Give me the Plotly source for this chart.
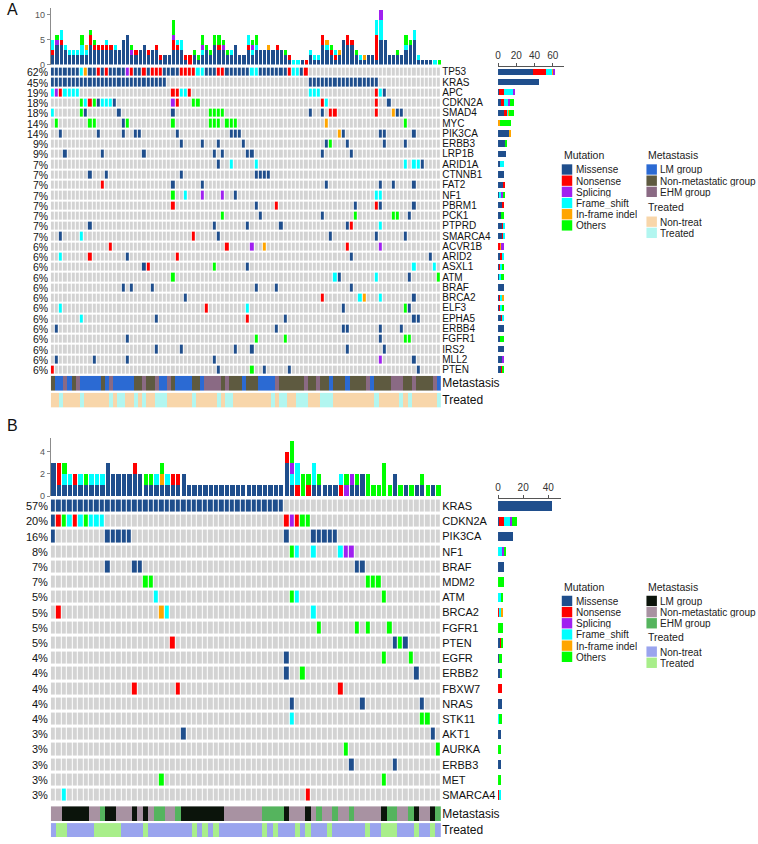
import plotly.graph_objects as go

# ── Canvas ────────────────────────────────────────────────────────────────────
W, H = 758, 844
FONT = "Arial, 'Liberation Sans', sans-serif"

# ── Mutation classes ──────────────────────────────────────────────────────────
MUT_CODES   = ["M", "N", "S", "F", "I", "O"]
MUT_NAMES   = ["Missense", "Nonsense", "Splicing", "Frame_shift", "In-frame indel", "Others"]
MUT_COLORS  = ["#1F4E8C", "#FF0000", "#A020F0", "#00FFFF", "#FFA500", "#00FF00"]
STACK_ORDER = ["M", "N", "F", "I", "S", "O"]      # bottom -> top in the bars
EMPTY_COLOR = "#D3D3D3"

META_NAMES  = ["LM group", "Non-metastatic group", "EHM group"]
META_CODES  = ["L", "N", "E"]
TREAT_NAMES = ["Non-treat", "Treated"]
TREAT_CODES = ["U", "T"]

# ── Panel A data ──────────────────────────────────────────────────────────────
N_A = 94
GENES_A = ["TP53", "KRAS", "APC", "CDKN2A", "SMAD4", "MYC", "PIK3CA", "ERBB3", "LRP1B",
           "ARID1A", "CTNNB1", "FAT2", "NF1", "PBRM1", "PCK1", "PTPRD", "SMARCA4",
           "ACVR1B", "ARID2", "ASXL1", "ATM", "BRAF", "BRCA2", "ELF3", "EPHA5", "ERBB4",
           "FGFR1", "IRS2", "MLL2", "PTEN"]
PCT_A = ["62%", "45%", "19%", "18%", "18%", "14%", "14%", "9%", "9%", "7%", "7%", "7%",
         "7%", "7%", "7%", "7%", "7%", "6%", "6%", "6%", "6%", "6%", "6%", "6%", "6%",
         "6%", "6%", "6%", "6%", "6%"]
# code + sample index (or range) for each gene row
HITS_A = [
    "M0-6 F7 I8 M9-10 N11 M12 N13 M14-17 S18 N19 M20-21 N22 M23 N24-26 M27-30 N31-34 "
    "F35-36 M37-39 N40-41 M42-47 F48-49 M50-56 N57 F58-59 M60 N61",
    "M0-27 M62-78",
    "F0 S1 N2 F3-6 N29-30 F31-32 N33 F62-64 N78 F79 M80",
    "O7 F8 N9 O10 M11 F12-14 M15 S29 N30 O34-35 N65 F66 N78 M81",
    "F0 O7 M8 M16 M29 O38-41 M62 M65 N67-68 N78 I82 M83-84",
    "O1 O9-10 M17 O18 O29 O38-40 O42-44 I66 O85",
    "M2 M11 M17 M20-21 M30 M43-45 I69 M70 M79-80 M87",
    "M31 M36 M40 M46 M66 O67 M71 M80 M85",
    "M3 M12 M22 M39 M41 M47-48 M65 M72",
    "M40 F43 F49 F85 F87-88 M89",
    "M9 M13 M31 M49-52",
    "N12 M29 M36 M66 M79 M82 M87",
    "O29 F32 S36 S41 M44 F78-79",
    "N29 M49 N54 M73 N78 M79 M87",
    "O41 M50 M65 O73 O82-83 M86",
    "M9 M39 M47 M55 M71 N72 F79",
    "M2 F7 N34 M40 M67 M78 M85",
    "N14 N42 S48 I51 N71 S79",
    "F2 N9 M18 N30 M72 M91",
    "M22 N23 O39 M47 F87 F92",
    "O29 F68 M69 F78 M86 O93",
    "M17 M19 M24 M49 M54 M72",
    "M32 N65 F74 I75 F79 M87",
    "F2 N37 F47 M70 O85 M86",
    "F7 M25 N47 M56 M87-88",
    "M1 M54 M70-71 M79 M84",
    "M18 O49 O56 M79 O85-86",
    "M25 M31 M44 M48 M71 M80",
    "M1 M10 M18 M39 S79 M87",
    "N0 M40 O48 M51 M57 M88",
]
# total mutations per sample (all genes), one string of class codes per sample
TMB_A = ("MMNFF MMMMSO MMMMNFF MMMF MMF MMF MMF MMFFOO MMFI MMMMNNO "
         "MMMNO MMMN MMMN MMMNF MMMN MMMF MMM MMMMM MMMMMM MMSO "
         "MMN MMM MMMM MMN MMM MMMN MN MM MM MMMNNSOOO "
         "MMMNF MMMFF MN NN MMO MO MMFSOO MMMO MMO MMMMOO "
         "MMMNOO MMMSO MMO MMF MMMM MM MM MMMNFF MMFSO MMMFOO "
         "MMM MMM MMMI MMM MMMN MMM MMO MN F F "
         "M N MMF MF MF MMMMNN MMMFI MMNO MNF MMI "
         "MMMMM MMMMNN MMMMN MMO MF MI MM MM MNNNNNFFF MMMMMFFFFSS "
         "MMMMM MM MM MMO MM MMMFOO MMMMO MMMMMFF MF M "
         "M M F O").split()
META_A = ("N0 L1-2 E3 L4 N5 E6 L7-11 N12 L13 E14 L15-19 N20-21 E22 N23-24 E25 L26-27 E28 "
          "N29 L30-33 N34-35 L36 E37-40 N41 E42 N43-45 L46 N47-49 L50-53 E54 N55-60 E61 "
          "N62-63 E64 N65-66 L67 N68-70 L71 N72-75 E76 L77 N78-81 E82-84 N85-86 E87 "
          "N88-91 E92 L93")
TREAT_A = ("T2 T7 T14 T16-17 T20 T22 T25-27 T34 T40 T42-43 T53 T55-56 T59-61 T65-67 "
           "T78 T84 T86 T93")
META_COLORS_A  = ["#2B6AD3", "#5E5A40", "#8A6A84"]
TREAT_COLORS_A = ["#F8D6AA", "#B2F6F0"]

# ── Panel B data ──────────────────────────────────────────────────────────────
N_B = 72
GENES_B = ["KRAS", "CDKN2A", "PIK3CA", "NF1", "BRAF", "MDM2", "ATM", "BRCA2", "FGFR1",
           "PTEN", "EGFR", "ERBB2", "FBXW7", "NRAS", "STK11", "AKT1", "AURKA", "ERBB3",
           "MET", "SMARCA4"]
PCT_B = ["57%", "20%", "16%", "8%", "7%", "7%", "5%", "5%", "5%", "5%", "4%", "4%", "4%",
         "4%", "4%", "3%", "3%", "3%", "3%", "3%"]
HITS_B = [
    "M0-42",
    "M0 N1 O2 F3 N4 F5 O6 F7-9 N43 S44 N45 O46-47",
    "M0 M10-14 M43 M48-52",
    "O44 F45 F48 F53 S54-55",
    "M10 M15-16 M56-57",
    "O17-18 O58-60",
    "F19 O44 F45 O61",
    "N1 I20 F21 F48",
    "O49 O56 O58 O62",
    "N22 M63 O64 M65",
    "M43 O61 O66",
    "M43 O46 M67",
    "N15 N23 N53",
    "M44 M57 M68",
    "F44 O68-69",
    "M24 M70",
    "O54 O71",
    "M55 M63",
    "O20 O61",
    "F2 N47",
]
META_B = ("N0-1 L2-6 N7-8 E9 L10-11 N12-14 L15 N16 L17 N18 E19-20 N21-22 E23 L24-31 "
          "N32-38 E39-42 L43 N44-46 L47 N48 E49 N50-51 E52 N53-54 E55 N56-60 L61 "
          "E62-63 N64-65 E66 L67 N68-69 L70 E71")
TREAT_B = "T1-2 T8-12 T17 T26 T28 T30 T39 T41 T45 T47 T51 T58 T61-63 T67 T70"
META_COLORS_B  = ["#0B140B", "#A892A2", "#55B45E"]
TREAT_COLORS_B = ["#9AA4EE", "#A8EE8A"]


def expand(spec, n, fill="."):
    row = [fill] * n
    for tok in spec.split():
        code, rng = tok[0], tok[1:]
        a, _, b = rng.partition("-")
        for i in range(int(a), int(b or a) + 1):
            row[i] = code
    return row


def discrete_scale(colors):
    n = len(colors)
    out = []
    for i, c in enumerate(colors):
        out += [[i / n, c], [(i + 1) / n, c]]
    return out


def ydom(top, bot):
    return [1 - bot / H, 1 - top / H]


def xdom(left, right):
    return [left / W, right / W]


def axkey(name):
    return name[0] + "axis" + name[1:]


fig = go.Figure()
layout_axes = {}
annotations = []
shapes = []


def add_panel(ax, n, genes, pct, hits, tmb, meta, treat, meta_colors, treat_colors, g):
    rows = [expand(h, n) for h in hits]
    code_idx = {c: i + 1 for i, c in enumerate(MUT_CODES)}
    ng = len(genes)

    # top bar: mutations per sample
    for code in STACK_ORDER:
        col = MUT_COLORS[MUT_CODES.index(code)]
        counts = [s.count(code) for s in tmb]
        fig.add_trace(go.Bar(x=list(range(n)), y=counts, width=g["barw"],
                             marker=dict(color=col, line_width=0),
                             xaxis=ax["x"], yaxis=ax["ytop"], showlegend=False))

    # oncoprint grid
    z = [[code_idx.get(c, 0) for c in r] for r in rows]
    fig.add_trace(go.Heatmap(z=z, x=list(range(n)), y=list(range(ng)),
                             colorscale=discrete_scale([EMPTY_COLOR] + MUT_COLORS),
                             zmin=-0.5, zmax=len(MUT_CODES) + 0.5, showscale=False,
                             xgap=1, ygap=g["ygap"], xaxis=ax["x"], yaxis=ax["ygrid"],
                             hoverinfo="skip"))

    # clinical annotation rows
    mrow = expand(meta, n)
    trow = expand(treat, n, fill="U")
    fig.add_trace(go.Heatmap(z=[[META_CODES.index(c) for c in mrow]], x=list(range(n)), y=[0],
                             colorscale=discrete_scale(meta_colors), zmin=-0.5, zmax=2.5,
                             showscale=False, xaxis=ax["x"], yaxis=ax["ymeta"], hoverinfo="skip"))
    fig.add_trace(go.Heatmap(z=[[TREAT_CODES.index(c) for c in trow]], x=list(range(n)), y=[0],
                             colorscale=discrete_scale(treat_colors), zmin=-0.5, zmax=1.5,
                             showscale=False, xaxis=ax["x"], yaxis=ax["ytreat"], hoverinfo="skip"))

    # right bar: mutations per gene
    for code in STACK_ORDER:
        col = MUT_COLORS[MUT_CODES.index(code)]
        fig.add_trace(go.Bar(x=[r.count(code) for r in rows], y=list(range(ng)),
                             orientation="h", width=0.62,
                             marker=dict(color=col, line_width=0),
                             xaxis=ax["xr"], yaxis=ax["yr"], showlegend=False))

    grid_dom = ydom(g["grid_top"], g["grid_bot"])
    row_px = (g["grid_bot"] - g["grid_top"]) / ng
    layout_axes[axkey(ax["x"])] = dict(domain=xdom(48, 440), range=[-0.5, n - 0.5],
                                       visible=False, anchor=ax["ygrid"])
    layout_axes[axkey(ax["ytop"])] = dict(
        domain=ydom(g["bar_top"], g["bar_bot"]), range=[0, g["bar_max"]], anchor=ax["x"],
        tickvals=g["bar_ticks"], showline=True, linecolor="#8C8C8C", linewidth=1,
        ticks="outside", ticklen=3, tickcolor="#8C8C8C", showgrid=False, zeroline=False,
        tickfont=dict(size=9, color="#555555"))
    layout_axes[axkey(ax["ygrid"])] = dict(
        domain=grid_dom, range=[ng - 0.5, -0.5], anchor=ax["x"], side="right",
        tickvals=list(range(ng)), ticktext=genes, showgrid=False, zeroline=False,
        ticks="", tickfont=dict(size=g["gene_font"], color="#111111"))
    layout_axes[axkey(ax["ymeta"])] = dict(
        domain=ydom(g["meta_top"], g["meta_bot"]), range=[-0.5, 0.5], anchor=ax["x"],
        side="right", tickvals=[0], ticktext=["Metastasis"], showgrid=False,
        zeroline=False, tickfont=dict(size=12, color="#111111"))
    layout_axes[axkey(ax["ytreat"])] = dict(
        domain=ydom(g["treat_top"], g["treat_bot"]), range=[-0.5, 0.5], anchor=ax["x"],
        side="right", tickvals=[0], ticktext=["Treated"], showgrid=False,
        zeroline=False, tickfont=dict(size=12, color="#111111"))
    layout_axes[axkey(ax["xr"])] = dict(
        domain=xdom(497, g["rb_right"]), range=[0, g["rb_max"]], anchor=ax["yr"],
        side="top", tickvals=g["rb_ticks"], showline=True, linecolor="#555555",
        ticks="outside", ticklen=3, tickcolor="#555555", showgrid=False, zeroline=False,
        tickfont=dict(size=10, color="#333333"))
    layout_axes[axkey(ax["yr"])] = dict(domain=grid_dom, range=[ng - 0.5, -0.5],
                                        anchor=ax["xr"], visible=False)

    # frequency labels left of the grid (box height held to one row)
    for i, p in enumerate(pct):
        annotations.append(dict(x=46 / W, xref="paper", y=i, yref=ax["ygrid"], text=p,
                                showarrow=False, xanchor="right", yanchor="middle",
                                height=row_px - 1, borderpad=0,
                                font=dict(size=g["pct_font"], color="#111111")))


def legend_block(x, y, title, names, colors, step=11.25):
    annotations.append(dict(x=x / W, y=1 - y / H, xref="paper", yref="paper", text=title,
                            showarrow=False, xanchor="left", yanchor="middle",
                            font=dict(size=10.5, color="#222222")))
    for i, (nm, col) in enumerate(zip(names, colors)):
        yc = y + 14.5 + i * step
        shapes.append(dict(type="rect", xref="paper", yref="paper",
                           x0=x / W, x1=(x + 10.5) / W,
                           y0=1 - (yc + 5.2) / H, y1=1 - (yc - 5.2) / H,
                           fillcolor=col, line_width=0))
        annotations.append(dict(x=(x + 13) / W, y=1 - yc / H, xref="paper", yref="paper",
                                text=nm, showarrow=False, xanchor="left", yanchor="middle",
                                height=step - 1, borderpad=0,
                                font=dict(size=10, color="#222222")))


add_panel(dict(x="x", xr="x2", ytop="y", ygrid="y2", ymeta="y3", ytreat="y4", yr="y5"),
          N_A, GENES_A, PCT_A, HITS_A, TMB_A, META_A, TREAT_A, META_COLORS_A, TREAT_COLORS_A,
          dict(grid_top=67, grid_bot=377, bar_top=8, bar_bot=65, bar_max=11.4,
               bar_ticks=[0, 5, 10], meta_top=378, meta_bot=393, treat_top=395,
               treat_bot=410, rb_right=563, rb_max=72, rb_ticks=[0, 20, 40, 60],
               ygap=2, barw=0.75, gene_font=10, pct_font=10.5))

tmb_b = ["".join(r[j] for r in [expand(h, N_B) for h in HITS_B] if r[j] != ".")
         for j in range(N_B)]
add_panel(dict(x="x3", xr="x4", ytop="y6", ygrid="y7", ymeta="y8", ytreat="y9", yr="y10"),
          N_B, GENES_B, PCT_B, HITS_B, tmb_b, META_B, TREAT_B, META_COLORS_B, TREAT_COLORS_B,
          dict(grid_top=501.5, grid_bot=807.5, bar_top=441, bar_bot=499, bar_max=5.2,
               bar_ticks=[0, 2, 4], meta_top=811, meta_bot=826, treat_top=828,
               treat_bot=842, rb_right=560, rb_max=50, rb_ticks=[0, 20, 40],
               ygap=3, barw=0.8, gene_font=11, pct_font=11))

# legends
legend_block(561, 156, "Mutation", MUT_NAMES, MUT_COLORS)
legend_block(646, 156, "Metastasis", META_NAMES, META_COLORS_A)
legend_block(646, 208.5, "Treated", TREAT_NAMES, TREAT_COLORS_A)
legend_block(561, 590, "Mutation", MUT_NAMES, MUT_COLORS)
legend_block(646, 590, "Metastasis", META_NAMES, META_COLORS_B)
legend_block(646, 641, "Treated", TREAT_NAMES, TREAT_COLORS_B)

# panel letters
for letter, y in [("A", 10), ("B", 428)]:
    annotations.append(dict(x=2 / W, y=1 - y / H, xref="paper", yref="paper", text=letter,
                            showarrow=False, xanchor="left", yanchor="middle",
                            font=dict(size=16, color="#111111")))

fig.update_layout(
    width=W, height=H,
    margin=dict(l=0, r=0, t=0, b=0),
    barmode="stack",
    plot_bgcolor="white", paper_bgcolor="white",
    font=dict(family=FONT, size=11, color="#111111"),
    annotations=annotations, shapes=shapes,
    showlegend=False,
    **layout_axes,
)

# the page body carries a default 8px margin; drop it so the figure sits at (0, 0)
fig.write_html("out.html", config={"displayModeBar": False},
               post_script="document.body.style.margin='0px';")
